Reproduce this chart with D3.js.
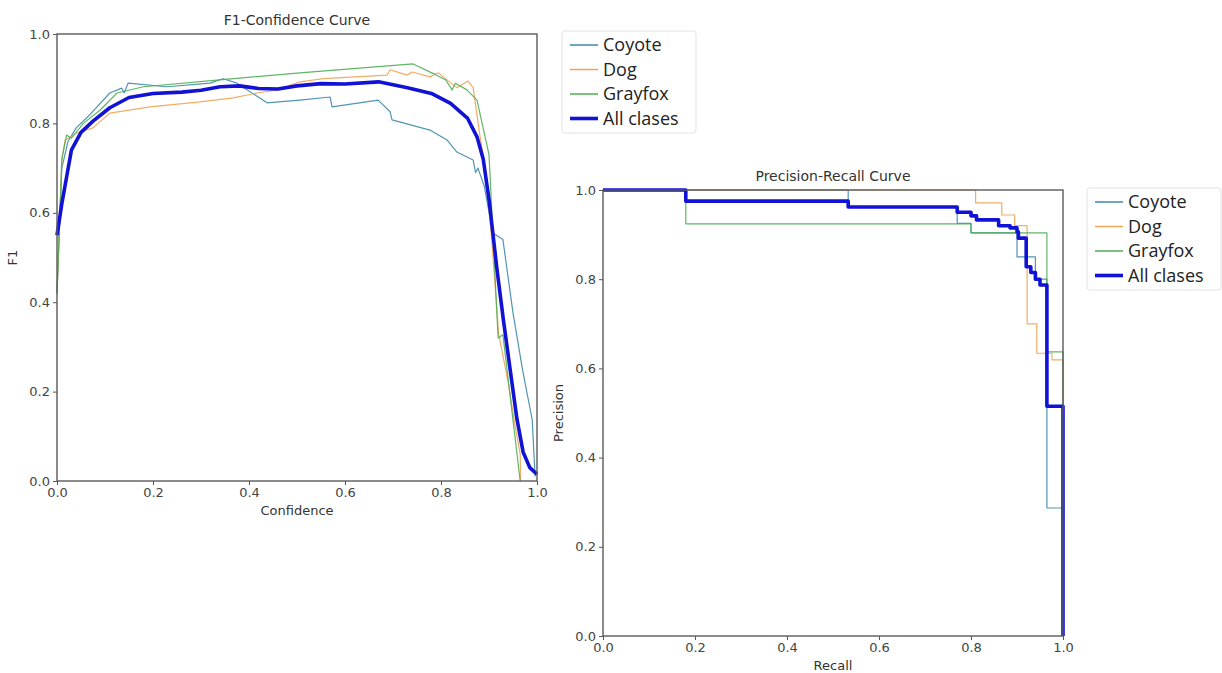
<!DOCTYPE html>
<html>
<head>
<meta charset="utf-8">
<script src="https://cdn.jsdelivr.net/npm/d3@7"></script>
<style>
  body { margin: 0; background: #fff; }
  svg { display: block; }
  .tick text { font-family: "DejaVu Sans", sans-serif; font-size: 13px; fill: #444; }
  .tick line { stroke: #555; }
  .domain { display: none; }
</style>
</head>
<body>
<div id="chart"></div>
<script>
// series names and colours
var classNames = ["Coyote", "Dog", "Grayfox", "All clases"];
var classColors = ["#3d8aa8", "#f0a455", "#4fae55", "#1212d4"];
var tickValues = [0, 0.2, 0.4, 0.6, 0.8, 1.0];

// F1-Confidence curve (confidence, f1)
var coyoteConf = [0, 0.01, 0.023, 0.04, 0.069, 0.11, 0.135, 0.14, 0.148, 0.229, 0.319, 0.346, 0.375, 0.4375, 0.506, 0.569, 0.573, 0.669, 0.694, 0.698, 0.777, 0.8125, 0.833, 0.867, 0.872, 0.877, 0.89, 0.908, 0.929, 0.95, 0.97, 0.99, 0.996];
var coyoteF1   = [0.42, 0.70, 0.76, 0.79, 0.82, 0.868, 0.879, 0.868, 0.89, 0.882, 0.89, 0.90, 0.89, 0.846, 0.852, 0.859, 0.837, 0.852, 0.826, 0.808, 0.785, 0.763, 0.736, 0.718, 0.69, 0.70, 0.66, 0.555, 0.54, 0.376, 0.248, 0.137, 0.01];

var dogConf = [0, 0.01, 0.017, 0.04, 0.075, 0.11, 0.194, 0.298, 0.367, 0.417, 0.46, 0.506, 0.555, 0.6875, 0.694, 0.729, 0.74, 0.777, 0.794, 0.833, 0.856, 0.867, 0.88, 0.892, 0.905, 0.92, 0.94, 0.955, 0.965, 0.966];
var dogF1   = [0.42, 0.718, 0.763, 0.778, 0.79, 0.823, 0.837, 0.848, 0.857, 0.868, 0.875, 0.893, 0.90, 0.908, 0.92, 0.908, 0.915, 0.904, 0.913, 0.88, 0.895, 0.88, 0.78, 0.70, 0.55, 0.33, 0.22, 0.12, 0.06, 0];

var grayfoxConf = [0, 0.01, 0.02, 0.03, 0.055, 0.09, 0.125, 0.18, 0.333, 0.506, 0.742, 0.783, 0.81, 0.823, 0.83, 0.854, 0.875, 0.90, 0.919, 0.929, 0.965];
var grayfoxF1   = [0.42, 0.72, 0.774, 0.767, 0.80, 0.83, 0.868, 0.882, 0.897, 0.913, 0.933, 0.912, 0.897, 0.875, 0.89, 0.875, 0.852, 0.73, 0.32, 0.327, 0];

var allConf = [0, 0.01, 0.02, 0.03, 0.05, 0.075, 0.11, 0.15, 0.2, 0.26, 0.3, 0.34, 0.38, 0.42, 0.46, 0.5, 0.55, 0.6, 0.67, 0.73, 0.78, 0.82, 0.855, 0.875, 0.888, 0.9, 0.917, 0.93, 0.944, 0.958, 0.971, 0.985, 1.0];
var allF1   = [0.55, 0.62, 0.68, 0.74, 0.78, 0.805, 0.835, 0.858, 0.867, 0.87, 0.874, 0.882, 0.884, 0.878, 0.877, 0.884, 0.889, 0.888, 0.893, 0.88, 0.867, 0.845, 0.812, 0.77, 0.72, 0.63, 0.47, 0.36, 0.25, 0.14, 0.065, 0.03, 0.015];

// Precision-Recall curve, steps (recall, precision)
var coyoteRecall = [0, 0.533, 0.77, 0.80, 0.90, 0.94, 0.965, 1.0];
var coyotePrec   = [1.0, 0.962, 0.925, 0.904, 0.85, 0.80, 0.287, 0];

var dogRecall = [0, 0.81, 0.867, 0.895, 0.922, 0.943, 0.976, 1.0];
var dogPrec   = [1.0, 0.971, 0.944, 0.92, 0.70, 0.634, 0.619, 0];

var grayfoxRecall = [0, 0.18, 0.80, 0.965, 1.0, 1.0];
var grayfoxPrec   = [1.0, 0.924, 0.904, 0.637, 0.52, 0];

var allRecall = [0, 0.18, 0.533, 0.77, 0.80, 0.812, 0.86, 0.885, 0.90, 0.903, 0.92, 0.93, 0.94, 0.95, 0.965, 1.0];
var allPrec   = [1.0, 0.975, 0.962, 0.95, 0.942, 0.933, 0.92, 0.915, 0.906, 0.892, 0.828, 0.815, 0.80, 0.787, 0.515, 0];

function zipPts(xs, ys) {
  return xs.map(function(x, i) { return [x, ys[i]]; });
}

var f1Series = [
  zipPts(coyoteConf, coyoteF1),
  zipPts(dogConf, dogF1),
  zipPts(grayfoxConf, grayfoxF1),
  zipPts(allConf, allF1)
];
var prSeries = [
  zipPts(coyoteRecall, coyotePrec),
  zipPts(dogRecall, dogPrec),
  zipPts(grayfoxRecall, grayfoxPrec),
  zipPts(allRecall, allPrec)
];

var svg = d3.select("#chart").append("svg")
  .attr("width", 1222)
  .attr("height", 673);

function drawPanel(opt) {
  var x = d3.scaleLinear().domain([0, 1]).range([opt.left, opt.right]);
  var y = d3.scaleLinear().domain([0, 1]).range([opt.bottom, opt.top]);
  var g = svg.append("g");

  g.append("g")
    .attr("transform", "translate(0," + opt.bottom + ")")
    .call(d3.axisBottom(x).tickValues(tickValues).tickFormat(d3.format(".1f")).tickSize(4).tickPadding(3));
  g.append("g")
    .attr("transform", "translate(" + opt.left + ",0)")
    .call(d3.axisLeft(y).tickValues(tickValues).tickFormat(d3.format(".1f")).tickSize(4).tickPadding(3));

  var line = d3.line()
    .x(function(d) { return x(d[0]); })
    .y(function(d) { return y(d[1]); })
    .curve(opt.curve);

  opt.series.forEach(function(s, i) {
    g.append("path")
      .datum(s)
      .attr("fill", "none")
      .attr("stroke", classColors[i])
      .attr("stroke-width", i == 3 ? 3.6 : 1.2)
      .attr("stroke-opacity", i == 3 ? 1 : 0.9)
      .attr("stroke-linejoin", "round")
      .attr("d", line);
  });

  // frame on top, like the spines
  g.append("rect")
    .attr("x", opt.left).attr("y", opt.top)
    .attr("width", opt.right - opt.left).attr("height", opt.bottom - opt.top)
    .attr("fill", "none").attr("stroke", "#5a5a5a").attr("stroke-width", 1.4);

  g.append("text")
    .attr("x", (opt.left + opt.right) / 2).attr("y", opt.top - 9)
    .attr("text-anchor", "middle")
    .style("font-family", "DejaVu Sans, sans-serif").style("font-size", "14px").style("fill", "#333")
    .text(opt.title);

  g.append("text")
    .attr("x", (opt.left + opt.right) / 2).attr("y", opt.bottom + 34)
    .attr("text-anchor", "middle")
    .style("font-family", "DejaVu Sans, sans-serif").style("font-size", "13px").style("fill", "#333")
    .text(opt.xLabel);

  g.append("text")
    .attr("transform", "translate(" + (opt.left - 40) + "," + ((opt.top + opt.bottom) / 2) + ") rotate(-90)")
    .attr("text-anchor", "middle")
    .style("font-family", "DejaVu Sans, sans-serif").style("font-size", "13px").style("fill", "#333")
    .text(opt.yLabel);

  // legend
  var rowH = 24.5;
  var lg = svg.append("g").attr("transform", "translate(" + opt.legendX + "," + opt.legendY + ")");
  lg.append("rect")
    .attr("x", 0).attr("y", 0).attr("width", 134).attr("height", 102).attr("rx", 3)
    .attr("fill", "#fff").attr("stroke", "#e2e2e2");
  classNames.forEach(function(name, i) {
    var ly = 14 + i * rowH;
    lg.append("line")
      .attr("x1", 8).attr("x2", 36).attr("y1", ly).attr("y2", ly)
      .attr("stroke", classColors[i]).attr("stroke-width", i == 3 ? 3.6 : 1.5);
    lg.append("text")
      .attr("x", 41).attr("y", ly).attr("dy", "0.35em")
      .style("font-family", "Open Sans, sans-serif").style("font-size", "18px").style("fill", "#222")
      .text(name);
  });
}

drawPanel({
  left: 57, right: 537, top: 34, bottom: 481,
  series: f1Series, curve: d3.curveLinear,
  title: "F1-Confidence Curve", xLabel: "Confidence", yLabel: "F1",
  legendX: 562, legendY: 31
});

drawPanel({
  left: 603, right: 1063, top: 190, bottom: 636,
  series: prSeries, curve: d3.curveStepAfter,
  title: "Precision-Recall Curve", xLabel: "Recall", yLabel: "Precision",
  legendX: 1087, legendY: 188
});
</script>
</body>
</html>
